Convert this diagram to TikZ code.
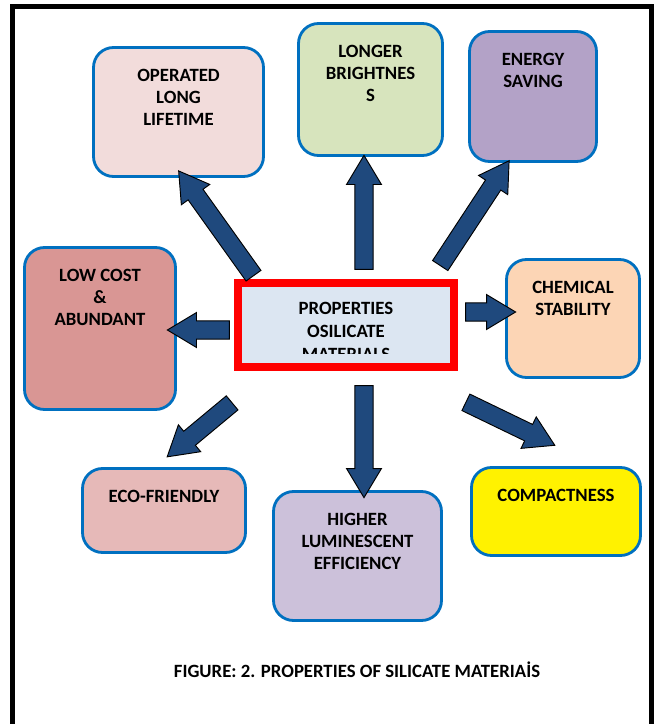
\documentclass[tikz,border=0pt]{standalone}
\usepackage{fontspec}
\setmainfont{Carlito}
\usepackage{xcolor}
\usetikzlibrary{shapes.arrows,positioning,calc}

\definecolor{edgeblue}{HTML}{0070C0}
\definecolor{arrowblue}{HTML}{1F497D}
\definecolor{centrefill}{HTML}{DCE6F2}
\definecolor{oplfill}{HTML}{F2DCDB}
\definecolor{lngfill}{HTML}{D7E4BD}
\definecolor{engfill}{HTML}{B3A2C7}
\definecolor{lowfill}{HTML}{D99694}
\definecolor{chmfill}{HTML}{FCD5B5}
\definecolor{ecofill}{HTML}{E6B9B8}
\definecolor{lumfill}{HTML}{CCC1DA}

\tikzset{
    propbox/.style={draw=edgeblue, line width=2.4pt, rounded corners=0.6cm},
    proptext/.style={font=\bfseries\fontsize{16}{18.7}\selectfont, align=center, inner sep=0pt},
    blockarr/.style={single arrow, draw=black, fill=arrowblue, line width=0.8pt,
        inner sep=0.26cm, single arrow head extend=0.25cm, single arrow tip angle=62,
        single arrow head indent=0pt, sloped, allow upside down, midway}
}

\begin{document}
\begin{tikzpicture}[x=0.03cm,y=-0.03cm]
    \useasboundingbox (0,0) rectangle (660,724);
    \fill[white] (0,0) rectangle (660,724);
    % frame
    \draw[line width=0.15cm] (12.5,724) -- (12.5,6.5) -- (651.5,6.5) -- (651.5,724);

    % property boxes
    \foreach \nm/\xa/\ya/\xb/\yb/\col/\txt in {
        op/92/46/265/178/oplfill/{OPERATED\\LONG\\LIFETIME},
        lb/297/22/444/157/lngfill/{LONGER\\BRIGHTNES\\S},
        es/468/30/598/163/engfill/{ENERGY\\SAVING},
        lc/23/246/177/411/lowfill/{LOW COST\\\&\\ABUNDANT},
        cs/505/258/641/379/chmfill/{CHEMICAL\\STABILITY},
        eco/81/467/247/554/ecofill/{ECO-FRIENDLY},
        hl/272/490/443/622/lumfill/{HIGHER\\LUMINESCENT\\EFFICIENCY},
        cp/470/466/642/557/yellow/{COMPACTNESS}} {
        \node[propbox, fill=\col, minimum width={(\xb-\xa-3)*0.03cm},
            minimum height={(\yb-\ya-3)*0.03cm}] (\nm) at ({(\xa+\xb)/2},{(\ya+\yb)/2}) {};
        \node[proptext, below=0.7cm of \nm.north] (\nm-t) {\txt};
    }

    % centre box
    \node[draw=red, line width=0.24cm, fill=centrefill, minimum width=6.5cm,
        minimum height=2.5cm] (prop) at (346,325) {};
    \begin{scope}
        \clip (242,286) rectangle (451,353);
        \node[proptext, font=\bfseries\fontsize{16}{19.6}\selectfont,
            below=0.68cm of prop.north] (prop-t) {PROPERTIES\\OSILICATE\\MATERIALS};
    \end{scope}

    % arrow ends
    \coordinate (prop-op) at (258,282);  \coordinate (op-in) at (183,177);
    \coordinate (prop-lb) at (364,277);  \coordinate (lb-in) at (364,163);
    \coordinate (prop-es) at (436,272);  \coordinate (es-in) at (505,167);
    \coordinate (prop-lc) at (237,330);  \coordinate (lc-in) at (175,330);
    \coordinate (prop-cs) at (458,312);  \coordinate (cs-in) at (508,312);
    \coordinate (prop-eco) at (238,398); \coordinate (eco-in) at (173,452);
    \coordinate (prop-hl) at (364,378);  \coordinate (hl-in) at (364,490);
    \coordinate (prop-cp) at (459,399);  \coordinate (cp-in) at (548,442);

    \foreach \nm in {op,lb,es,lc,cs,eco,hl,cp} {
        \path let \p1=($(\nm-in)-(prop-\nm)$), \n1={veclen(\x1,\y1)} in
            (prop-\nm) -- (\nm-in) node[blockarr, minimum height=\n1] {};
    }

    % caption
    \node[font=\bfseries\fontsize{16}{19}\selectfont] (cap) at (357,670)
        {FIGURE: 2. PROPERTIES OF SILICATE MATERIAİS};
\end{tikzpicture}
\end{document}
